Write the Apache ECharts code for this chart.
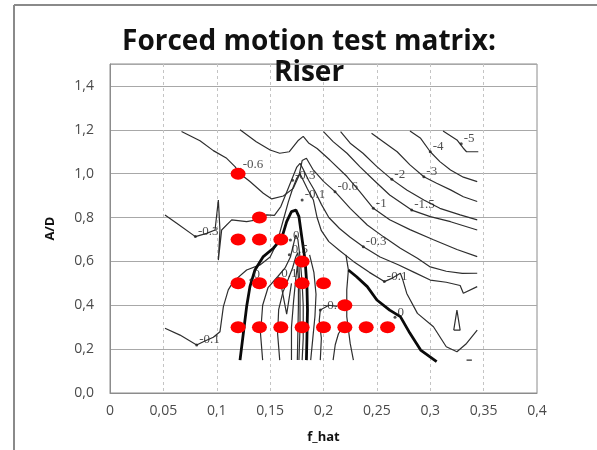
<!DOCTYPE html>
<html>
<head>
<meta charset="utf-8">
<script src="https://cdn.jsdelivr.net/npm/echarts@6/dist/echarts.min.js"></script>
<style>html,body{margin:0;padding:0;background:#fff;}#chart{width:597px;height:450px;}</style>
</head>
<body>
<div id="chart"></div>
<script>
// ---- axis tick labels ----
const xTickLabels = ['0','0,05','0,1','0,15','0,2','0,25','0,3','0,35','0,4'];
const yTickLabels = ['0,0','0,2','0,4','0,6','0,8','1,0','1,2','1,4'];

// ---- test matrix points (f_hat, A/D) ----
const testF  = [0.12, 0.14, 0.12, 0.14, 0.16, 0.18, 0.12, 0.14, 0.16, 0.18, 0.20, 0.22, 0.12, 0.14, 0.16, 0.18, 0.20, 0.22, 0.24, 0.26];
const testAD = [1.0,  0.8,  0.7,  0.7,  0.7,  0.6,  0.5,  0.5,  0.5,  0.5,  0.5,  0.4,  0.3,  0.3,  0.3,  0.3,  0.3,  0.3,  0.3,  0.3];

// ---- contour lines (f_hat, A/D) ----
const contourM5  = [[0.312,1.195],[0.325,1.154],[0.331,1.116],[0.334,1.10],[0.345,1.10]];
const contourM4  = [[0.281,1.195],[0.291,1.161],[0.300,1.10],[0.309,1.055],[0.319,1.017],[0.331,0.984],[0.344,0.964]];
const contourM3  = [[0.245,1.184],[0.256,1.146],[0.269,1.10],[0.281,1.04],[0.294,0.986],[0.306,0.956],[0.319,0.926],[0.331,0.895],[0.344,0.873]];
const contourM2  = [[0.216,1.192],[0.225,1.139],[0.237,1.093],[0.250,1.032],[0.264,0.974],[0.278,0.926],[0.294,0.88],[0.309,0.842],[0.328,0.812],[0.344,0.789]];
const contourM15 = [[0.200,1.192],[0.209,1.146],[0.222,1.093],[0.234,1.032],[0.247,0.971],[0.262,0.903],[0.2826,0.834],[0.300,0.804],[0.319,0.781],[0.344,0.743]];
const contourM1  = [[0.1218,1.2],[0.137,1.146],[0.150,1.108],[0.159,1.093],[0.168,1.10],[0.176,1.15],[0.181,1.17],[0.186,1.14],[0.194,1.115],[0.206,1.062],[0.222,0.987],[0.234,0.918],[0.2467,0.842],[0.262,0.79],[0.281,0.745],[0.303,0.699],[0.325,0.654],[0.344,0.622]];
const contourM06 = [[0.067,1.192],[0.0843,1.150],[0.0968,1.105],[0.1093,1.070],[0.1171,1.032],[0.1218,1.0],[0.1311,0.964],[0.1436,0.911],[0.1515,0.885],[0.1624,0.898],[0.1717,0.933],[0.177,0.99],[0.180,1.06],[0.184,1.07],[0.190,1.02],[0.200,0.965],[0.2108,0.918],[0.225,0.842],[0.241,0.766],[0.256,0.713],[0.272,0.66],[0.288,0.614],[0.300,0.575],[0.315,0.555],[0.330,0.545],[0.344,0.546]];
const contourM03 = [[0.0515,0.812],[0.0625,0.774],[0.080,0.713],[0.0905,0.728],[0.0984,0.743],[0.1015,0.88],[0.103,0.743],[0.1015,0.606],[0.1046,0.743],[0.114,0.789],[0.128,0.781],[0.138,0.79],[0.1468,0.812],[0.154,0.81],[0.160,0.85],[0.165,0.91],[0.170,0.97],[0.175,1.03],[0.178,1.047],[0.181,1.02],[0.186,0.97],[0.192,0.92],[0.198,0.86],[0.205,0.80],[0.215,0.75],[0.225,0.71],[0.2373,0.667],[0.253,0.62],[0.270,0.585],[0.285,0.55],[0.300,0.515],[0.315,0.505],[0.328,0.49],[0.331,0.455],[0.344,0.485]];
const contourM01 = [[0.0515,0.295],[0.0656,0.264],[0.0812,0.219],[0.0874,0.234],[0.0968,0.254],[0.103,0.279],[0.1062,0.394],[0.1108,0.47],[0.1155,0.508],[0.128,0.561],[0.1405,0.584],[0.150,0.62],[0.155,0.67],[0.159,0.73],[0.163,0.80],[0.167,0.87],[0.171,0.93],[0.175,0.98],[0.178,1.0],[0.181,0.97],[0.185,0.93],[0.1905,0.88],[0.194,0.80],[0.198,0.74],[0.205,0.69],[0.215,0.65],[0.228,0.60],[0.243,0.55],[0.257,0.508],[0.265,0.525],[0.272,0.546],[0.274,0.52],[0.278,0.454],[0.288,0.363],[0.303,0.302],[0.315,0.211],[0.325,0.188],[0.334,0.226],[0.344,0.287]];
const contourZeroLeft  = [[0.1218,0.150],[0.1249,0.272],[0.128,0.394],[0.1311,0.485],[0.1358,0.561],[0.1436,0.622],[0.153,0.66],[0.1608,0.705],[0.1655,0.781],[0.170,0.827],[0.1742,0.834],[0.177,0.804],[0.1796,0.713],[0.1827,0.607],[0.1845,0.485],[0.185,0.379],[0.1845,0.257],[0.184,0.150]];
const contourZeroRight = [[0.2233,0.561],[0.231,0.530],[0.241,0.485],[0.250,0.424],[0.262,0.378],[0.272,0.348],[0.281,0.272],[0.291,0.196],[0.306,0.143]];
const contourP01 = [[0.143,0.15],[0.141,0.27],[0.143,0.40],[0.148,0.48],[0.157,0.53],[0.164,0.57],[0.169,0.62],[0.172,0.68],[0.174,0.72],[0.176,0.70],[0.178,0.62],[0.180,0.50],[0.181,0.40],[0.181,0.25],[0.180,0.15]];
const contourP03 = [[0.159,0.15],[0.157,0.27],[0.158,0.38],[0.162,0.46],[0.167,0.52],[0.171,0.57],[0.174,0.62],[0.176,0.64],[0.177,0.58],[0.178,0.45],[0.178,0.30],[0.177,0.15]];
const contourP05 = [[0.170,0.15],[0.170,0.30],[0.172,0.42],[0.174,0.52],[0.1755,0.58],[0.1765,0.52],[0.1765,0.40],[0.1755,0.15]];
const contourVee = [[0.160,0.50],[0.1655,0.36],[0.170,0.50]];
const contourB1  = [[0.188,0.15],[0.190,0.25],[0.192,0.35],[0.193,0.45],[0.191,0.55],[0.187,0.63]];
const contourB2  = [[0.197,0.15],[0.198,0.25],[0.196,0.33],[0.197,0.378],[0.205,0.40],[0.213,0.395]];
const contourB3  = [[0.209,0.15],[0.211,0.22],[0.214,0.27],[0.218,0.30]];
const contourV1  = [[0.221,0.63],[0.2218,0.622],[0.2233,0.561],[0.2218,0.47],[0.2218,0.348],[0.225,0.226],[0.228,0.15]];
const contourLoop = [[0.322,0.287],[0.325,0.378],[0.328,0.287],[0.322,0.287]];
const contourDash = [[0.334,0.15],[0.339,0.15]];

// ---- contour labels: [f_hat, A/D, text] ----
const contourLabels = [
  [0.122, 1.02, '-0.6'], [0.080, 0.713, '-0.3'], [0.0812, 0.219, '-0.1'],
  [0.132, 0.515, '0'], [0.169, 0.697, '0'], [0.158, 0.523, '0.1'], [0.168, 0.63, '0.5'],
  [0.171, 0.97, '-0.3'], [0.180, 0.88, '-0.1'], [0.2108, 0.918, '-0.6'],
  [0.2467, 0.842, '-1'], [0.2826, 0.834, '-1.5'], [0.264, 0.974, '-2'],
  [0.294, 0.986, '-3'], [0.300, 1.10, '-4'], [0.329, 1.136, '-5'],
  [0.2373, 0.667, '-0.3'], [0.257, 0.508, '-0.1'], [0.267, 0.345, '0'], [0.197, 0.378, '-0.1']
];

const thinLines = [contourM5, contourM4, contourM3, contourM2, contourM15, contourM1, contourM06, contourM03, contourM01,
  contourP01, contourP03, contourP05, contourVee, contourB1, contourB2, contourB3, contourV1, contourLoop, contourDash];
const thickLines = [contourZeroLeft, contourZeroRight];

const series = [];
thinLines.forEach(d => series.push({type:'line', data:d, showSymbol:false, silent:true, z:2,
  lineStyle:{color:'#2e2e2e', width:1.2}}));
thickLines.forEach(d => series.push({type:'line', data:d, showSymbol:false, silent:true, z:3,
  lineStyle:{color:'#0a0a0a', width:2.8}}));
series.push({type:'scatter', data:contourLabels, symbolSize:3, silent:true, z:4,
  itemStyle:{color:'#222'},
  label:{show:true, position:'right', distance:1, offset:[0,-5], formatter:p=>p.data[2],
    fontFamily:'Liberation Serif', fontSize:13, color:'#222'}});
series.push({type:'scatter', data:testF.map((f,i)=>[f, testAD[i]]), symbol:'circle', symbolSize:[15,12], z:6,
  itemStyle:{color:'#ff0000', opacity:1}});

const chart = echarts.init(document.getElementById('chart'), null, {renderer:'canvas'});
chart.setOption({
  animation:false,
  backgroundColor:'#fff',
  title:{text:'Forced motion test matrix:\nRiser', left:304, textAlign:'center', top:22,
    textStyle:{fontFamily:'Open Sans', fontWeight:'bold', fontSize:28, lineHeight:31, color:'#111'}},
  grid:{left:110, right:60, top:64, bottom:57, show:true, borderColor:'#8c8c8c', borderWidth:1},
  xAxis:{type:'value', min:0, max:0.4, interval:0.05,
    name:'f_hat', nameLocation:'middle', nameGap:38,
    nameTextStyle:{fontFamily:'Open Sans', fontWeight:'bold', fontSize:13, color:'#111'},
    axisLine:{lineStyle:{color:'#8c8c8c'}}, axisTick:{show:false},
    axisLabel:{margin:11, fontFamily:'Open Sans', fontSize:14, color:'#4a4a4a',
      formatter:v=>xTickLabels[Math.round(v/0.05)] ?? ''},
    splitLine:{show:true, lineStyle:{color:'#c4c4c4', type:[3,3], width:1}}},
  yAxis:{type:'value', min:0, max:1.5, interval:0.2,
    name:'A/D', nameLocation:'middle', nameGap:53, nameRotate:90,
    nameTextStyle:{fontFamily:'Open Sans', fontWeight:'bold', fontSize:13, color:'#111'},
    axisLine:{show:true, lineStyle:{color:'#8c8c8c'}}, axisTick:{show:false},
    axisLabel:{margin:16, fontFamily:'Open Sans', fontSize:14, color:'#4a4a4a',
      formatter:v=>{const i=Math.round(v/0.2); return (Math.abs(v-i*0.2)<1e-6 && yTickLabels[i]) ? yTickLabels[i] : '';}},
    splitLine:{show:true, lineStyle:{color:'#a8a8a8', width:1}}},
  graphic:[
    {type:'line', shape:{x1:14, y1:5, x2:14, y2:450}, style:{stroke:'#8a8a8a', lineWidth:2}, silent:true},
    {type:'line', shape:{x1:14, y1:5, x2:597, y2:5}, style:{stroke:'#8a8a8a', lineWidth:2}, silent:true}
  ],
  series:series
});
</script>
</body>
</html>
